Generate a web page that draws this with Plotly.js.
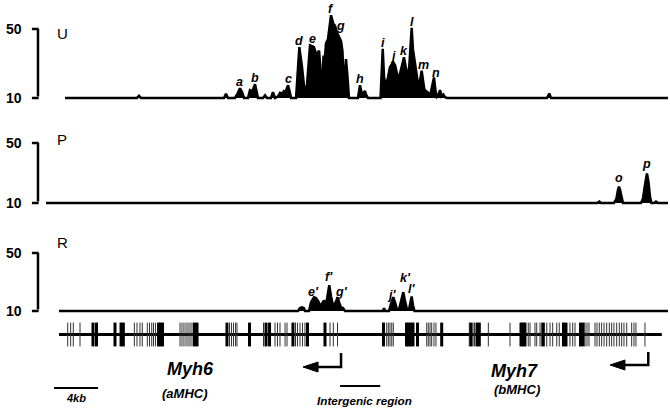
<!DOCTYPE html>
<html>
<head>
<meta charset="utf-8">
<script src="https://cdn.plot.ly/plotly-3.0.1.min.js"></script>
<style>
  html, body { margin: 0; padding: 0; background: #fff; }
  #chart { width: 670px; height: 409px; }
</style>
</head>
<body>
<div id="chart"></div>
<script>
// positions in kb along the locus, signal in read units (baseline 10)
let uX = [0.55, 7.09, 7.27, 7.45, 15.0, 15.18, 15.36,
  16.0, 16.27, 16.45, 16.64, 16.82,
  17.18, 17.36, 17.5, 17.64, 17.82, 18.0, 18.09,
  18.55, 18.73, 18.91, 19.27, 19.45, 19.64,
  19.91, 20.09, 20.27, 20.45, 20.59, 20.82, 21.0, 21.09,
  21.55, 21.85, 22.09, 22.36,
  22.55, 22.82, 23.0, 23.18, 23.43, 23.64, 23.73, 23.82,
  23.95, 24.05, 24.14, 24.27, 24.45, 24.73, 24.94, 25.09, 25.27, 25.45, 25.64, 25.77, 25.85, 25.95, 26.09, 26.23, 26.36,
  27.18, 27.36, 27.55, 27.73, 27.82, 27.91, 28.09,
  29.23, 29.27, 29.43, 29.55, 29.73, 29.91, 30.09, 30.39, 30.55, 30.73, 30.82, 31.0, 31.18, 31.36, 31.55, 31.73,
  31.86, 32.06, 32.18, 32.36, 32.55, 32.66, 32.82, 32.97, 33.09, 33.21, 33.36, 33.57, 33.73, 33.91, 34.09, 34.23,
  34.34, 34.45, 34.64, 34.77, 34.94, 35.09, 35.25,
  44.36, 44.57, 44.73, 55.36];
let uY = [10, 10, 11.2, 10, 10, 12.5, 10,
  10, 13, 15.6, 13.5, 10,
  10, 14.5, 14, 15, 18, 13, 10,
  10, 11.5, 10, 10, 13.4, 10,
  11, 13, 12.5, 14, 13.5, 17.4, 13, 10,
  10, 39.5, 28, 12,
  18, 40.5, 40, 39.5, 34.6, 37.5, 30, 15,
  22, 34.6, 30, 41.5, 44, 58, 53, 52, 48, 45.5, 43, 37, 22.8, 20, 32.6, 22, 10,
  10, 17.4, 12, 13.5, 14, 12, 10,
  10, 16, 38.5, 22, 17, 22, 28, 30.7, 29, 24, 22, 24, 29, 33.6, 27, 21,
  30, 50.7, 38, 28.7, 22, 17, 20, 25.8, 19, 15, 14, 13, 11, 16, 21.9, 14,
  10.5, 11, 14.6, 11, 12, 10.5, 10,
  10, 12.6, 10, 10];

let pX = [-1.18, 48.91, 49.12, 49.27,
  50.45, 50.68, 50.82, 50.91, 51.0, 51.14, 51.27,
  52.91, 53.09, 53.27, 53.45, 53.59, 53.73, 53.86,
  54.09, 54.27, 54.45, 55.36];
let pY = [10, 10, 11, 10,
  10, 13, 19, 21, 19, 13, 10,
  10, 13, 22, 29.7, 24, 14, 10,
  10, 11, 10, 10];

let rX = [0, 21.73, 21.91, 22.09, 22.27, 22.36,
  22.73, 22.91, 23.18, 23.36, 23.55, 23.73, 23.91, 24.09, 24.27, 24.45, 24.57, 24.73, 24.91, 25.09, 25.34, 25.5, 25.64, 25.82, 26.0,
  29.45, 29.55, 29.64,
  30.0, 30.18, 30.39, 30.55, 30.73, 30.91, 31.09, 31.3, 31.45, 31.64, 31.82, 31.91, 32.06, 32.18, 32.32,
  55.36];
let rY = [10, 10, 12, 12.5, 12, 10,
  10, 16, 19.5, 19, 17, 14, 15, 17.3, 14, 22, 27.8, 20, 14, 15, 19.5, 15, 12.5, 12, 10,
  10, 12, 10,
  10, 15, 19.5, 16, 11, 11, 17, 23, 17, 11, 11, 15, 20, 14, 10,
  10];

// labelled peaks: name, peak position (kb), peak signal
let uPeaks = ['a', 'b', 'c', 'd', 'e', 'f', 'g', 'h', 'i', 'j', 'k', 'l', 'm', 'n'];
let uPeakX = [16.45, 17.82, 20.82, 21.85, 23.0, 24.73, 25.27, 27.36, 29.43, 30.39, 31.36, 32.06, 32.97, 34.09];
let uPeakY = [15.6, 18, 17.4, 39.5, 40.5, 58, 48, 17.4, 38.5, 30.7, 33.6, 50.7, 25.8, 21.9];

let pPeaks = ['o', 'p'];
let pPeakX = [50.91, 53.45];
let pPeakY = [21, 29.7];

let rPeaks = ["e'", "f'", "g'", "j'", "k'", "l'"];
let rPeakX = [23.18, 24.57, 25.34, 30.39, 31.3, 32.06];
let rPeakY = [19.5, 27.8, 19.5, 19.5, 23, 20];

// scale bracket of every track
let scaleTicks = [10, 50];

// exon positions (kb)
let thinExons = [0.79, 1.06, 1.30, 1.91, 6.85, 7.09, 7.36, 7.57, 8.03, 8.23, 8.43, 8.59, 8.77,
  11.0, 11.18, 11.36, 11.55, 11.73, 11.91, 12.09, 15.5, 15.68, 15.86, 16.05, 16.18,
  18.59, 19.64, 19.86, 20.09, 20.55, 20.73, 21.5, 21.68, 21.91, 22.14, 22.36, 24.64, 24.94, 25.32,
  29.79, 29.94, 30.09, 30.25, 30.39, 33.43, 33.57, 33.73, 33.88, 34.09, 34.27,
  37.3, 37.64, 37.77, 39.03, 41.0, 42.66, 42.82, 43.27, 43.43, 43.73, 43.88, 44.34, 44.64, 44.88,
  45.25, 45.48, 46.45, 46.7, 46.91, 47.82, 48.0, 48.18, 48.73, 48.91, 49.12, 49.33, 49.55, 49.79,
  50.03, 50.24, 50.45, 50.7, 50.94, 51.15, 51.36, 51.61, 52.06, 52.27, 52.45, 53.27];
let thickExons = [3.09, 3.41, 5.09, 5.64, 5.85, 9.05, 9.23, 9.41, 12.32, 12.55, 15.27, 17.32,
  18.82, 19.14, 21.27, 22.59, 24.18,
  29.5, 31.59, 31.77, 31.95, 32.18, 32.59, 34.79, 37.45, 38.0, 38.21,
  42.0, 42.18, 42.36, 44.03, 45.86, 46.09, 47.41, 47.64];
let geneStart = 0, geneEnd = 54.8;

let ff = 'Liberation Sans, Arial, sans-serif';

function track(x, y, ax) {
  return {x: x, y: y, xaxis: 'x', yaxis: ax, type: 'scatter', mode: 'lines',
    fill: 'toself', fillcolor: '#000', line: {color: '#000', width: 2.5}, hoverinfo: 'skip'};
}
function exonTrace(pos, w, col) {
  let x = [], y = [];
  pos.forEach(p => { x.push(p, p, null); y.push(-1, 1, null); });
  return {x: x, y: y, xaxis: 'x', yaxis: 'y4', type: 'scatter', mode: 'lines',
    line: {color: col, width: w}, hoverinfo: 'skip'};
}

let data = [
  track(uX, uY, 'y'),
  track(pX, pY, 'y2'),
  track(rX, rY, 'y3'),
  {x: [geneStart, geneEnd], y: [0, 0], xaxis: 'x', yaxis: 'y4', type: 'scatter', mode: 'lines',
    line: {color: '#000', width: 3}, hoverinfo: 'skip'},
  exonTrace(thinExons, 1, '#333'),
  exonTrace(thickExons, 3, '#000')
];

let annotations = [];
// nudges so the letters sit where the figure puts them
let nudgeU = {g: [4, 0], m: [2, 0], n: [2, -2]};
let nudgeR = {"g'": [4, -3], "j'": [-2, -6], "k'": [2, 6], "e'": [0, -3]};
function peakLabels(names, xs, ys, ax, shift, nudge) {
  names.forEach((n, i) => {
    let d = nudge[n] || [0, 0];
    annotations.push({x: xs[i], y: ys[i], xref: 'x', yref: ax, text: '<b><i>' + n + '</i></b>',
      showarrow: false, yanchor: 'bottom', xshift: d[0], yshift: shift + d[1],
      font: {family: ff, size: 12.5, color: '#000'}});
  });
}
peakLabels(uPeaks, uPeakX, uPeakY, 'y', -3, nudgeU);
peakLabels(pPeaks, pPeakX, pPeakY, 'y2', 0, {});
peakLabels(rPeaks, rPeakX, rPeakY, 'y3', -1, nudgeR);

// "]" scale bracket drawn as headless annotation arrows in the track's own units
function bar(ax, x0, y0, x1, y1) {
  annotations.push({x: x1, y: y1, ax: x0, ay: y0, xref: 'x', yref: ax, axref: 'x', ayref: ax,
    text: '', showarrow: true, arrowhead: 0, arrowwidth: 2.5, arrowcolor: '#000',
    standoff: 0, startstandoff: 0});
}

let shapes = [];
[['y', 'U', 0.918], ['y2', 'P', 0.660], ['y3', 'R', 0.406]].forEach(t => {
  let lo = scaleTicks[0], hi = scaleTicks[1];
  bar(t[0], -1.91, lo, -1.91, hi);
  bar(t[0], -2.6, hi, -1.85, hi);
  bar(t[0], -2.6, lo, -1.85, lo);
  scaleTicks.forEach(v => {
    annotations.push({x: 0.036, y: v, xref: 'paper', yref: t[0], xanchor: 'right', yanchor: 'middle',
      text: '<b>' + v + '</b>', showarrow: false, font: {family: ff, size: 14, color: '#000'}});
  });
  annotations.push({x: 0.082, y: t[2], xref: 'paper', yref: 'paper', yanchor: 'middle', text: t[1],
    showarrow: false, font: {family: ff, size: 15, color: '#000'}});
});

// promoter arrows
shapes.push({type: 'path', xref: 'x', yref: 'paper', path: 'M 25.64,0.1369 L 25.64,0.1027 L 23.4,0.1027',
  line: {color: '#000', width: 2.5}});
shapes.push({type: 'path', xref: 'x', yref: 'paper', path: 'M 22.18,0.1027 L 23.55,0.1149 L 23.55,0.0905 Z',
  fillcolor: '#000', line: {color: '#000', width: 1}});
shapes.push({type: 'path', xref: 'x', yref: 'paper', path: 'M 53.57,0.1394 L 53.57,0.1076 L 51.3,0.1076',
  line: {color: '#000', width: 2.5}});
shapes.push({type: 'path', xref: 'x', yref: 'paper', path: 'M 50.09,0.1076 L 51.45,0.1198 L 51.45,0.0954 Z',
  fillcolor: '#000', line: {color: '#000', width: 1}});
// scale bars
shapes.push({type: 'line', xref: 'x', yref: 'paper', x0: -0.45, x1: 3.55, y0: 0.0513, y1: 0.0513,
  line: {color: '#000', width: 2}});
shapes.push({type: 'line', xref: 'x', yref: 'paper', x0: 25.55, x1: 29.2, y0: 0.0562, y1: 0.0562,
  line: {color: '#000', width: 2}});

[['<b><i>Myh6</i></b>', 11.95, 0.0978, 18], ['<b><i>(aMHC)</i></b>', 11.45, 0.0391, 13],
 ['<b><i>Myh7</i></b>', 41.45, 0.0929, 18], ['<b><i>(bMHC)</i></b>', 41.6, 0.0465, 13],
 ['<b><i>4kb</i></b>', 1.55, 0.0269, 11], ['<b><i>Intergenic region</i></b>', 27.8, 0.0196, 11.7]
].forEach(t => {
  annotations.push({x: t[1], y: t[2], xref: 'x', yref: 'paper', yanchor: 'middle', text: t[0],
    showarrow: false, font: {family: ff, size: t[3], color: '#000'}});
});

let hidden = {visible: false, fixedrange: true};
let layout = {
  width: 670, height: 409,
  margin: {l: 0, r: 0, t: 0, b: 0},
  paper_bgcolor: '#fff', plot_bgcolor: '#fff',
  showlegend: false,
  xaxis: Object.assign({domain: [0, 1], range: [-5.3636, 55.5455]}, hidden),
  yaxis: Object.assign({domain: [0.7520, 0.9797], range: [8, 62]}, hidden),
  yaxis2: Object.assign({domain: [0.4963, 0.6870], range: [8, 60]}, hidden),
  yaxis3: Object.assign({domain: [0.2325, 0.4169], range: [8, 60]}, hidden),
  yaxis4: Object.assign({domain: [0.1443, 0.2200], range: [-1.3, 1.3]}, hidden),
  shapes: shapes,
  annotations: annotations
};

Plotly.newPlot('chart', data, layout, {staticPlot: true});
</script>
</body>
</html>
